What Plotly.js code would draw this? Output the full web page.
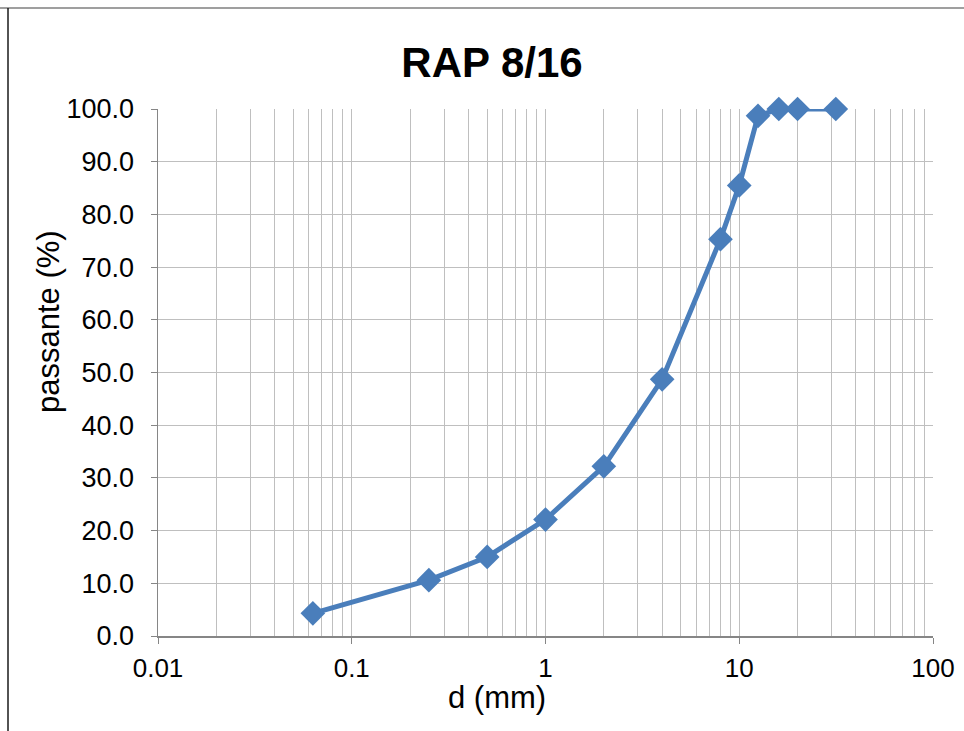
<!DOCTYPE html>
<html>
<head>
<meta charset="utf-8">
<script src="https://cdn.plot.ly/plotly-3.0.1.min.js"></script>
<style>
html,body{margin:0;padding:0;background:#fff;}
#chart{width:964px;height:731px;}
</style>
</head>
<body>
<div id="chart"></div>
<script>
// Sieve sizes (mm) and percent passing
const sieveSizes = [0.063, 0.25, 0.5, 1, 2, 4, 8, 10, 12.5, 16, 20, 31.5];
const passing = [4.3, 10.6, 15.0, 22.1, 32.2, 48.7, 75.3, 85.5, 98.7, 100.0, 100.0, 100.0];
const xTickVals = [0.01, 0.1, 1, 10, 100];
const xTickText = ['0.01', '0.1', '1', '10', '100'];
const yTickVals = [0, 10, 20, 30, 40, 50, 60, 70, 80, 90, 100];
const xTitle = 'd (mm)';
const yTitle = 'passante (%)';

const minorVals = [];
[0.01, 0.1, 1, 10].forEach(d => { for (let k = 2; k <= 9; k++) minorVals.push(+(d * k).toPrecision(3)); });

const trace = {
  x: sieveSizes,
  y: passing,
  type: 'scatter',
  mode: 'lines+markers',
  line: {color: '#4A7EBB', width: 5},
  marker: {symbol: 'diamond', size: 19, color: '#4A7EBB'},
  cliponaxis: false,
  hoverinfo: 'x+y'
};

const layout = {
  width: 964, height: 731,
  margin: {l: 158, r: 31, t: 109, b: 95},
  paper_bgcolor: '#ffffff',
  plot_bgcolor: '#ffffff',
  showlegend: false,
  font: {family: 'Liberation Sans, Arial, sans-serif', color: '#000'},
  title: {
    text: '<b>RAP 8/16</b>',
    font: {family: 'Liberation Sans, Arial', size: 42, color: '#000'},
    x: 492 / 964, xref: 'container', xanchor: 'center',
    y: 0.915, yref: 'container', yanchor: 'middle'
  },
  xaxis: {
    type: 'log',
    range: [-2, 2],
    tickvals: xTickVals,
    ticktext: xTickText,
    ticks: 'outside', ticklen: 6, tickcolor: '#868686', tickwidth: 1,
    showline: true, linecolor: '#868686', linewidth: 1.5,
    showgrid: true, gridcolor: '#BFBFBF', gridwidth: 1,
    minor: {tickvals: minorVals, showgrid: true, gridcolor: '#BFBFBF', gridwidth: 1, ticks: ''},
    tickfont: {size: 26, family: 'Liberation Sans, Arial'},
    ticklabelstandoff: 2,
    zeroline: false,
    mirror: false
  },
  yaxis: {
    range: [0, 100],
    tickvals: yTickVals,
    tickformat: '.1f',
    ticks: 'outside', ticklen: 6, tickcolor: '#868686', tickwidth: 1,
    showline: true, linecolor: '#868686', linewidth: 1.5,
    showgrid: true, gridcolor: '#BFBFBF', gridwidth: 1,
    tickfont: {size: 27, family: 'Liberation Sans, Arial'},
    ticklabelstandoff: 11,
    zeroline: false
  },
  annotations: [
    {text: xTitle, xref: 'paper', yref: 'paper', x: (497 - 158) / 775, y: -(697 - 636) / 527,
     xanchor: 'center', yanchor: 'middle', showarrow: false, font: {size: 31, family: 'Liberation Sans, Arial', color: '#000'}},
    {text: yTitle, xref: 'paper', yref: 'paper', x: (48 - 158) / 775, y: (636 - 322) / 527,
     xanchor: 'center', yanchor: 'middle', textangle: -90, showarrow: false, font: {size: 31, family: 'Liberation Sans, Arial', color: '#000'}}
  ],
  shapes: [
    {type: 'line', xref: 'paper', yref: 'paper', x0: -158/775, x1: 2, y0: 1 + 101/527, y1: 1 + 101/527, line: {color: '#7F7F7F', width: 1.5}},
    {type: 'line', xref: 'paper', yref: 'paper', x0: -150/775, x1: -150/775, y0: 1 + 101/527, y1: -1, line: {color: '#1a1a1a', width: 1.5}}
  ]
};

Plotly.newPlot('chart', [trace], layout, {displayModeBar: false, staticPlot: true});
</script>
</body>
</html>
